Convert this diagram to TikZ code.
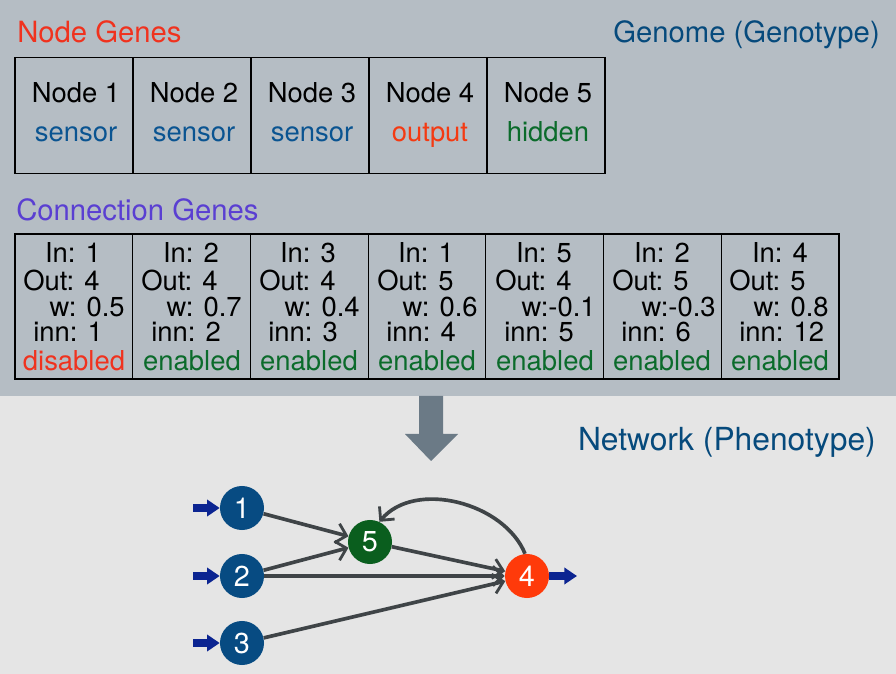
\documentclass[tikz,border=0pt]{standalone}
\usepackage{fontspec}
\setmainfont{TeX Gyre Heros}
\usepackage{tikz}
\usetikzlibrary{arrows.meta}

\definecolor{topgray}{HTML}{B5BDC4}
\definecolor{lowgray}{HTML}{E5E5E5}
\definecolor{headred}{HTML}{F0321E}
\definecolor{headpurple}{HTML}{5A3FD2}
\definecolor{headblue}{HTML}{064A7C}
\definecolor{sensorblue}{HTML}{0A5491}
\definecolor{outred}{HTML}{F43A12}
\definecolor{hidgreen}{HTML}{0B6B2B}
\definecolor{nodeblue}{HTML}{074B82}
\definecolor{nodegreen}{HTML}{0A5E1E}
\definecolor{nodered}{HTML}{FF3A0A}
\definecolor{inarrow}{HTML}{0B2491}
\definecolor{edgegray}{HTML}{3F4447}
\definecolor{bigarrow}{HTML}{6B7A86}

\tikzset{
  genebox/.style={draw=black, line width=0.8pt, minimum width=2.95cm, minimum height=2.9cm, inner sep=0},
  connbox/.style={draw=black, line width=0.8pt, minimum width=2.9425cm, minimum height=3.625cm, inner sep=0},
  heading/.style={inner sep=0, font=\fontsize{20.8}{23}\selectfont},
  genetext/.style={inner sep=0, font=\fontsize{19.5}{21}\selectfont},
  netnode/.style={circle, minimum size=1.1cm, inner sep=0, text=white, font=\fontsize{20.5}{22}\selectfont},
  link/.style={draw=edgegray, line width=2.6pt, -{Straight Barb[length=7pt,width=14pt,line width=2pt]}},
  feed/.style={draw=inarrow, line width=5pt, -{Triangle[length=9pt,width=11.5pt]}}
}

\begin{document}
\begin{tikzpicture}[x=0.025cm, y=-0.025cm]
% background
\useasboundingbox (0,0) rectangle (896,674);
\fill[topgray] (0,0) rectangle (896,396);
\fill[lowgray] (0,396) rectangle (896,674);

% headings
\node[heading, text=headred, anchor=base west] (nghead) at (17,43) {Node Genes};
\node[heading, text=headblue, anchor=base east] (genome) at (880,43) {Genome (Genotype)};
\node[heading, text=headpurple, anchor=base west] (cghead) at (16,221) {Connection Genes};
\node[heading, text=headblue, anchor=base east, font=\fontsize{22.6}{25}\selectfont] (network) at (876,451) {Network (Phenotype)};

% node genes
\node[genebox] (ng1) at (74,115.5) {};
\node[genebox] (ng2) at (192,115.5) {};
\node[genebox] (ng3) at (310,115.5) {};
\node[genebox] (ng4) at (428,115.5) {};
\node[genebox] (ng5) at (546,115.5) {};
\node[genetext, anchor=base] (ng1a) at (76,103) {Node 1};
\node[genetext, anchor=base] (ng2a) at (194,103) {Node 2};
\node[genetext, anchor=base] (ng3a) at (312,103) {Node 3};
\node[genetext, anchor=base] (ng4a) at (430,103) {Node 4};
\node[genetext, anchor=base] (ng5a) at (548,103) {Node 5};
\node[genetext, anchor=base, text=sensorblue] (ng1b) at (76,142) {sensor};
\node[genetext, anchor=base, text=sensorblue] (ng2b) at (194,142) {sensor};
\node[genetext, anchor=base, text=sensorblue] (ng3b) at (312,142) {sensor};
\node[genetext, anchor=base, text=outred] (ng4b) at (430,142) {output};
\node[genetext, anchor=base, text=hidgreen] (ng5b) at (548,142) {hidden};

% connection genes
\node[connbox] (cg1) at (73.9,306.5) {};
\node[connbox] (cg2) at (191.6,306.5) {};
\node[connbox] (cg3) at (309.3,306.5) {};
\node[connbox] (cg4) at (427.0,306.5) {};
\node[connbox] (cg5) at (544.7,306.5) {};
\node[connbox] (cg6) at (662.4,306.5) {};
\node[connbox] (cg7) at (780.1,306.5) {};
% gene 1
\node[genetext, anchor=base] (in1) at (73,263) {In: 1};
\node[genetext, anchor=base west] (out1) at (23,291) {Out: 4};
\node[genetext, anchor=base east] (w1) at (125,317) {w: 0.5};
\node[genetext, anchor=base west] (inn1) at (33,342) {inn: 1};
\node[genetext, anchor=base, text=headred] (st1) at (74,371) {disabled};
% gene 2
\node[genetext, anchor=base] (in2) at (191,263) {In: 2};
\node[genetext, anchor=base west] (out2) at (141,291) {Out: 4};
\node[genetext, anchor=base east] (w2) at (242,317) {w: 0.7};
\node[genetext, anchor=base west] (inn2) at (151,342) {inn: 2};
\node[genetext, anchor=base, text=hidgreen] (st2) at (192,371) {enabled};
% gene 3
\node[genetext, anchor=base] (in3) at (308,263) {In: 3};
\node[genetext, anchor=base west] (out3) at (259,291) {Out: 4};
\node[genetext, anchor=base east] (w3) at (360,317) {w: 0.4};
\node[genetext, anchor=base west] (inn3) at (268,342) {inn: 3};
\node[genetext, anchor=base, text=hidgreen] (st3) at (309,371) {enabled};
% gene 4
\node[genetext, anchor=base] (in4) at (426,263) {In: 1};
\node[genetext, anchor=base west] (out4) at (377,291) {Out: 5};
\node[genetext, anchor=base east] (w4) at (478,317) {w: 0.6};
\node[genetext, anchor=base west] (inn4) at (386,342) {inn: 4};
\node[genetext, anchor=base, text=hidgreen] (st4) at (427,371) {enabled};
% gene 5
\node[genetext, anchor=base] (in5) at (544,263) {In: 5};
\node[genetext, anchor=base west] (out5) at (495,291) {Out: 4};
\node[genetext, anchor=base east] (w5) at (596,317) {w:-0.1};
\node[genetext, anchor=base west] (inn5) at (504,342) {inn: 5};
\node[genetext, anchor=base, text=hidgreen] (st5) at (545,371) {enabled};
% gene 6
\node[genetext, anchor=base] (in6) at (662,263) {In: 2};
\node[genetext, anchor=base west] (out6) at (612,291) {Out: 5};
\node[genetext, anchor=base east] (w6) at (716,317) {w:-0.3};
\node[genetext, anchor=base west] (inn6) at (621,342) {inn: 6};
\node[genetext, anchor=base, text=hidgreen] (st6) at (662,371) {enabled};
% gene 7
\node[genetext, anchor=base] (in7) at (780,263) {In: 4};
\node[genetext, anchor=base west] (out7) at (729,291) {Out: 5};
\node[genetext, anchor=base east] (w7) at (829,317) {w: 0.8};
\node[genetext, anchor=base west] (inn7) at (739,342) {inn: 12};
\node[genetext, anchor=base, text=hidgreen] (st7) at (780,371) {enabled};

% big arrow
\fill[bigarrow] (419,396) -- (443,396) -- (443,434) -- (458,434) -- (431,461) -- (405,434) -- (419,434) -- cycle;

% network
\node[netnode, fill=nodeblue] (n1) at (242,508) {1};
\node[netnode, fill=nodeblue] (n2) at (242,576) {2};
\node[netnode, fill=nodeblue] (n3) at (242,643) {3};
\node[netnode, fill=nodegreen] (n5) at (370,542) {5};
\node[netnode, fill=nodered] (n4) at (527,576) {4};
\coordinate (in1a) at (193,508);
\coordinate (in2a) at (193,576);
\coordinate (in3a) at (193,643);
\coordinate (outa) at (577,576);
% draws edges
\draw[link] (n1) to (n5);
\draw[link] (n2) to (n5);
\draw[link] (n2) to (n4);
\draw[link] (n3) to (n4);
\draw[link] (n5) to (n4);
\draw[link] (n4.95) to[out=112, in=50, looseness=0.95] (n5.65);
% draws inputs and output
\draw[feed] (in1a) to (n1);
\draw[feed] (in2a) to (n2);
\draw[feed] (in3a) to (n3);
\draw[feed] (n4) to (outa);
\end{tikzpicture}
\end{document}
